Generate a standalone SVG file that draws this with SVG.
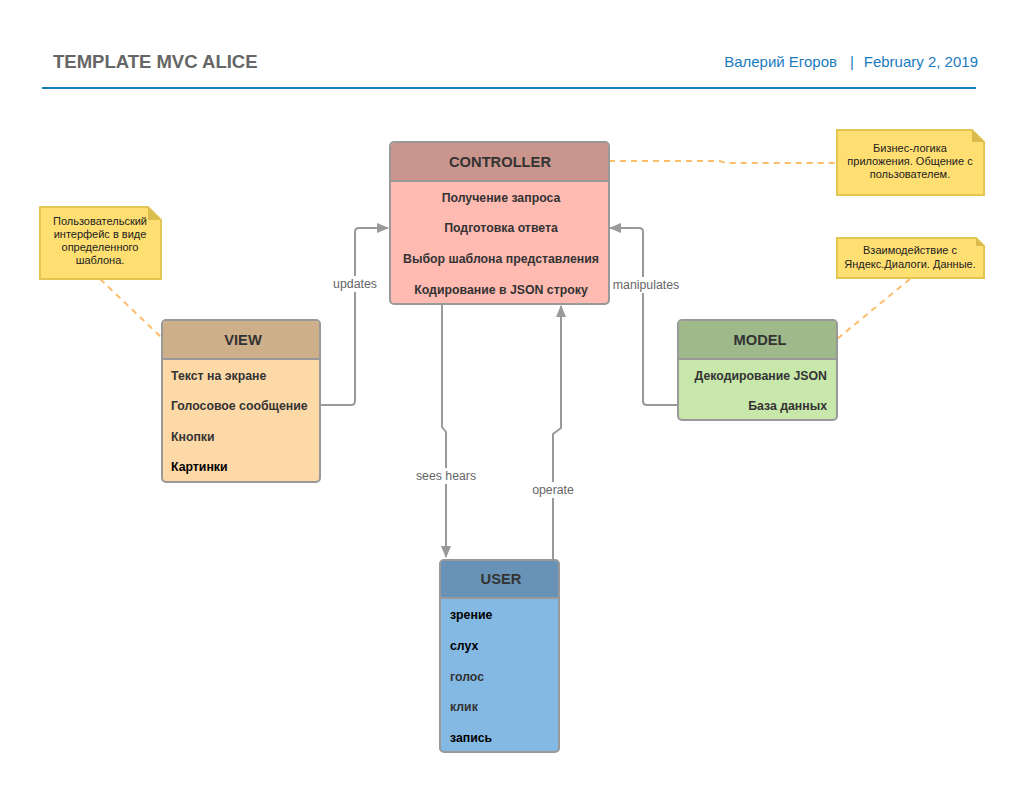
<svg xmlns="http://www.w3.org/2000/svg" width="1024" height="792" viewBox="0 0 1024 792">
<defs>
<style>
text{font-family:"Liberation Sans",Arial,sans-serif}
.hdr{font-size:14.7px;font-weight:bold;fill:#333;text-anchor:middle}
.row{font-size:12.3px;font-weight:bold;fill:#333}
.blk{fill:#000}
.note{font-size:11px;fill:#222;text-anchor:middle}
.lbl{font-size:12.3px;fill:#666;text-anchor:middle}
.box{stroke:#999;stroke-width:2}
.conn{fill:none;stroke:#999;stroke-width:2}
.dash{fill:none;stroke:#fbbd6a;stroke-width:2;stroke-dasharray:6 5}
.nf{fill:#ffdf71;stroke:#e3c552;stroke-width:2}
.meta{font-size:15px;fill:#1a7bbd}
</style>
<marker id="arr" markerWidth="12" markerHeight="10" refX="11" refY="5" orient="auto" markerUnits="userSpaceOnUse">
<path d="M0,0 L12,5 L0,10 Z" fill="#999"/>
</marker>
</defs>
<rect width="1024" height="792" fill="#fff"/>
<g id="header">
<text x="53" y="68" style="font-size:18.5px;font-weight:bold;fill:#666">TEMPLATE MVC ALICE</text>
<text class="meta" x="837" y="67" text-anchor="end">Валерий Егоров</text>
<text class="meta" x="852" y="67" text-anchor="middle">|</text>
<text class="meta" x="978" y="67" text-anchor="end">February 2, 2019</text>
<line x1="42" y1="88" x2="976" y2="88" stroke="#1a7bbd" stroke-width="2"/>
</g>
<g id="connectors">
<path class="dash" d="M609,161 L720,161 L726,163 L836,163"/>
<path class="dash" d="M100,279 L162,338"/>
<path class="dash" d="M910,279 L837,339"/>
<path class="conn" d="M320,405 L351,405 Q355,405 355,401 L355,232 Q355,228 359,228 L388,228" marker-end="url(#arr)"/>
<path class="conn" d="M678,405 L647,405 Q643,405 643,401 L643,232 Q643,228 639,228 L610,228" marker-end="url(#arr)"/>
<path class="conn" d="M442,305 L442,427 L446,432 L446,557" marker-end="url(#arr)"/>
<path class="conn" d="M553,559 L553,434 L561,428 L561,306" marker-end="url(#arr)"/>
<rect x="329" y="276" width="52" height="16" fill="#fff"/>
<text class="lbl" x="355" y="288">updates</text>
<rect x="611" y="277" width="72" height="16" fill="#fff"/>
<text class="lbl" x="646" y="289">manipulates</text>
<rect x="413" y="468" width="66" height="16" fill="#fff"/>
<text class="lbl" x="446" y="480">sees hears</text>
<rect x="529" y="482" width="48" height="16" fill="#fff"/>
<text class="lbl" x="553" y="494">operate</text>
</g>
<g id="controller">
<rect class="box" x="390" y="142" width="219" height="162" rx="4" fill="#ffbab2"/>
<path d="M391,181 L391,146 Q391,143 394,143 L605,143 Q608,143 608,146 L608,181 Z" fill="#c9958d"/>
<line x1="390" y1="181" x2="609" y2="181" stroke="#999" stroke-width="2"/>
<text class="hdr" x="500" y="167">CONTROLLER</text>
<text class="row" x="501" y="202" text-anchor="middle">Получение запроса</text>
<text class="row" x="501" y="232" text-anchor="middle">Подготовка ответа</text>
<text class="row" x="501" y="263" text-anchor="middle">Выбор шаблона представления</text>
<text class="row" x="501" y="294" text-anchor="middle">Кодирование в JSON строку</text>
</g>
<g id="view">
<rect class="box" x="162" y="320" width="158" height="162" rx="4" fill="#fed9a8"/>
<path d="M163,359 L163,324 Q163,321 166,321 L316,321 Q319,321 319,324 L319,359 Z" fill="#cdb08a"/>
<line x1="162" y1="359" x2="320" y2="359" stroke="#999" stroke-width="2"/>
<text class="hdr" x="243" y="345">VIEW</text>
<text class="row" x="171" y="380">Текст на экране</text>
<text class="row" x="171" y="410">Голосовое сообщение</text>
<text class="row" x="171" y="441">Кнопки</text>
<text class="row blk" x="171" y="471">Картинки</text>
</g>
<g id="model">
<rect class="box" x="678" y="320" width="159" height="100" rx="4" fill="#c7e7ab"/>
<path d="M679,359 L679,324 Q679,321 682,321 L833,321 Q836,321 836,324 L836,359 Z" fill="#9fb98a"/>
<line x1="678" y1="359" x2="837" y2="359" stroke="#999" stroke-width="2"/>
<text class="hdr" x="760" y="345">MODEL</text>
<text class="row" x="827" y="380" text-anchor="end">Декодирование JSON</text>
<text class="row" x="827" y="410" text-anchor="end">База данных</text>
</g>
<g id="user">
<rect class="box" x="440" y="560" width="119" height="192" rx="4" fill="#83b9e3"/>
<path d="M441,598 L441,564 Q441,561 444,561 L555,561 Q558,561 558,564 L558,598 Z" fill="#6993b6"/>
<line x1="440" y1="598" x2="559" y2="598" stroke="#999" stroke-width="2"/>
<text class="hdr" x="501" y="584">USER</text>
<text class="row blk" x="450" y="619">зрение</text>
<text class="row blk" x="450" y="650">слух</text>
<text class="row" x="450" y="681">голос</text>
<text class="row" x="450" y="711">клик</text>
<text class="row blk" x="450" y="742">запись</text>
</g>
<g id="note-view">
<path class="nf" d="M40,207 L148,207 L161,220 L161,279 L40,279 Z"/>
<path d="M148,207 L148,220 L161,220 Z" fill="#d9bc4c"/>
<text class="note" x="100" y="225">Пользовательский</text>
<text class="note" x="100" y="238">интерфейс в виде</text>
<text class="note" x="100" y="251">определенного</text>
<text class="note" x="100" y="264">шаблона.</text>
</g>
<g id="note-controller">
<path class="nf" d="M837,130 L972,130 L984,142 L984,195 L837,195 Z"/>
<path d="M972,130 L972,142 L984,142 Z" fill="#d9bc4c"/>
<text class="note" x="910" y="152">Бизнес-логика</text>
<text class="note" x="910" y="165">приложения. Общение с</text>
<text class="note" x="910" y="178">пользователем.</text>
</g>
<g id="note-model">
<path class="nf" d="M837,238 L976,238 L984,246 L984,278 L837,278 Z"/>
<path d="M976,238 L976,246 L984,246 Z" fill="#d9bc4c"/>
<text class="note" x="910" y="254">Взаимодействие с</text>
<text class="note" x="910" y="268">Яндекс.Диалоги. Данные.</text>
</g>
</svg>
